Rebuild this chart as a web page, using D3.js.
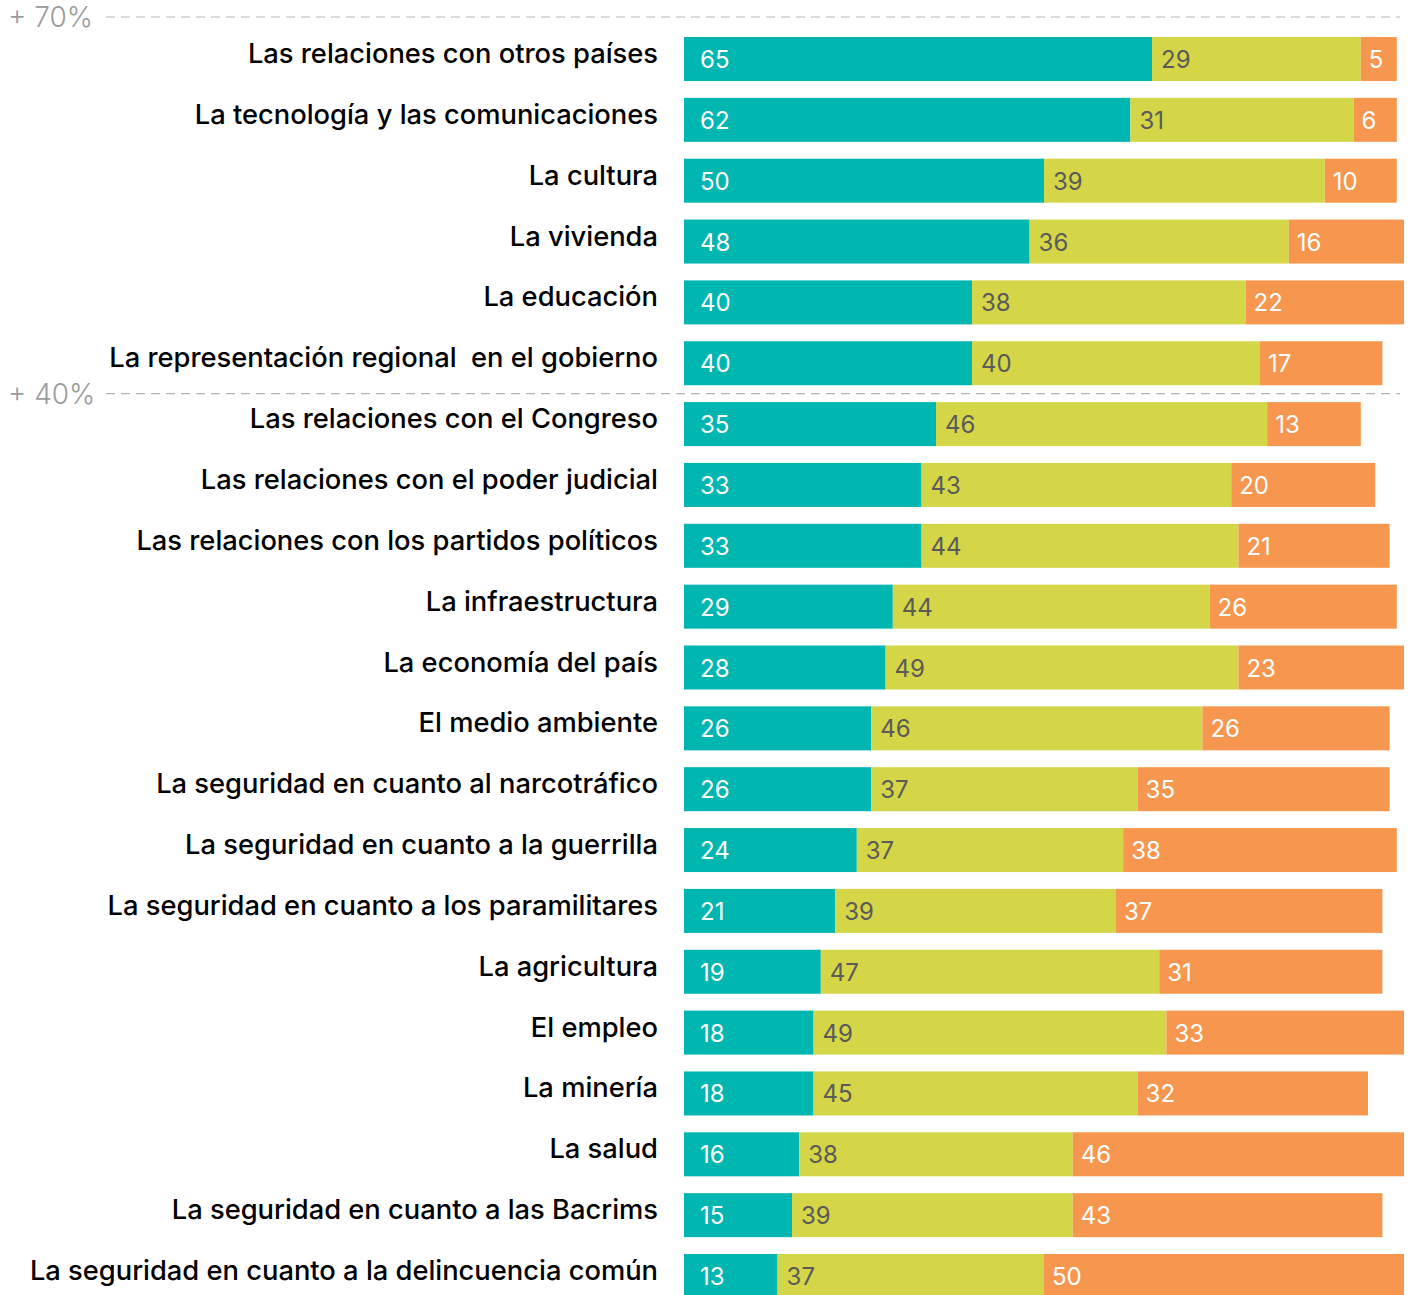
<!DOCTYPE html>
<html>
<head>
<meta charset="utf-8">
<script src="https://cdn.jsdelivr.net/npm/d3@7"></script>
<style>
  html, body { margin: 0; padding: 0; background: #ffffff; }
  svg { display: block; }
</style>
</head>
<body>
<div id="chart"></div>
<script>
const categories = [
    "Las relaciones con otros países",
    "La tecnología y las comunicaciones",
    "La cultura",
    "La vivienda",
    "La educación",
    "La representación regional  en el gobierno",
    "Las relaciones con el Congreso",
    "Las relaciones con el poder judicial",
    "Las relaciones con los partidos políticos",
    "La infraestructura",
    "La economía del país",
    "El medio ambiente",
    "La seguridad en cuanto al narcotráfico",
    "La seguridad en cuanto a la guerrilla",
    "La seguridad en cuanto a los paramilitares",
    "La agricultura",
    "El empleo",
    "La minería",
    "La salud",
    "La seguridad en cuanto a las Bacrims",
    "La seguridad en cuanto a la delincuencia común"
];
const positive = [65, 62, 50, 48, 40, 40, 35, 33, 33, 29, 28, 26, 26, 24, 21, 19, 18, 18, 16, 15, 13];
const neutral  = [29, 31, 39, 36, 38, 40, 46, 43, 44, 44, 49, 46, 37, 37, 39, 47, 49, 45, 38, 39, 37];
const negative = [5, 6, 10, 16, 22, 17, 13, 20, 21, 26, 23, 26, 35, 38, 37, 31, 33, 32, 46, 43, 50];

// threshold lines drawn above the row at the given index
const thresholdLabels = ["+ 70%", "+ 40%"];
const thresholdRows = [0, 6];

const width = 1413;
const height = 1295;
const barLeft = 684;
const barHeight = 44;
const rowStep = 60.85;
const firstTop = 37;

const seriesKeys = ["positive", "neutral", "negative"];
const colors = { positive: "#00b6b0", neutral: "#d4d647", negative: "#f7974f" };
const textColors = { positive: "#ffffff", neutral: "#5a5a5a", negative: "#ffffff" };
const textPad = { positive: 16, neutral: 9, negative: 8 };

const rows = categories.map((c, i) => ({
    name: c,
    positive: positive[i],
    neutral: neutral[i],
    negative: negative[i]
}));

const x = d3.scaleLinear().domain([0, 100]).range([barLeft, barLeft + 720]);
const y = d3.scaleBand()
    .domain(categories)
    .range([firstTop, firstTop + rowStep * (categories.length - 1) + barHeight])
    .paddingInner((rowStep - barHeight) / rowStep)
    .paddingOuter(0)
    .align(0);

const stack = d3.stack().keys(seriesKeys)(rows);

const svg = d3.select("#chart")
    .append("svg")
    .attr("width", width)
    .attr("height", height);

const font = "Inter, 'Helvetica Neue', Roboto, Arial, sans-serif";

// dashed thresholds
thresholdRows.forEach((r, i) => {
    const cat = categories[r];
    const ly = i === 0 ? y(cat) - 20 : (y(categories[r - 1]) + y.bandwidth() + y(cat)) / 2;
    svg.append("line")
        .attr("x1", 106)
        .attr("x2", 1400)
        .attr("y1", ly)
        .attr("y2", ly)
        .attr("stroke", "#b5b5b5")
        .attr("stroke-width", 1.2)
        .attr("stroke-dasharray", "9,6");
    svg.append("text")
        .attr("x", 8)
        .attr("y", ly + 10)
        .style("font-family", font)
        .style("font-weight", 300)
        .style("font-size", "28px")
        .style("fill", "#9b9b9b")
        .text(thresholdLabels[i]);
});

// bars
const layers = svg.selectAll("g.layer")
    .data(stack)
    .enter()
    .append("g")
    .attr("class", "layer");

layers.selectAll("rect")
    .data(d => d.map(v => ({ key: d.key, v, row: v.data })))
    .enter()
    .append("rect")
    .attr("x", d => x(d.v[0]))
    .attr("y", d => y(d.row.name))
    .attr("width", d => x(d.v[1]) - x(d.v[0]))
    .attr("height", y.bandwidth())
    .attr("fill", d => colors[d.key]);

layers.selectAll("text")
    .data(d => d.map(v => ({ key: d.key, v, row: v.data })))
    .enter()
    .append("text")
    .attr("x", d => x(d.v[0]) + textPad[d.key])
    .attr("y", d => y(d.row.name) + y.bandwidth() / 2 + 9)
    .style("font-family", font)
    .style("font-size", "24px")
    .style("fill", d => textColors[d.key])
    .text(d => d.row[d.key]);

// category labels
svg.selectAll("text.cat")
    .data(categories)
    .enter()
    .append("text")
    .attr("class", "cat")
    .attr("x", 658)
    .attr("y", d => y(d) + y.bandwidth() / 2 + 4)
    .attr("text-anchor", "end")
    .style("font-family", font)
    .style("font-weight", 500)
    .style("font-size", "27.3px")
    .style("fill", "#000000")
    .style("white-space", "pre")
    .text(d => d);
</script>
</body>
</html>
